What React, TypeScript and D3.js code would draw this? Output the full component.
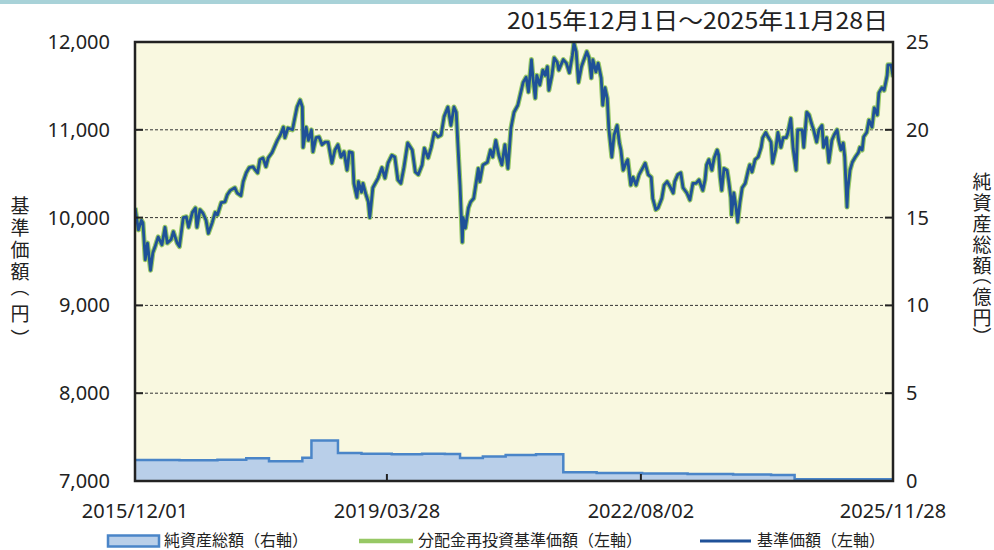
import React from "react";
import * as d3 from "d3";

// ---- Data (dates as fractional years) ----
const navYears = [
  2015.917, 2015.96, 2016.0, 2016.02, 2016.05, 2016.08, 2016.12, 2016.15, 2016.18, 2016.22, 2016.27, 2016.31, 2016.34, 2016.39, 2016.42, 2016.47, 2016.5, 2016.55, 2016.59, 2016.62, 2016.67, 2016.71, 2016.73, 2016.77, 2016.81, 2016.85, 2016.88, 2016.93, 2016.97,
  2017.0, 2017.05, 2017.1, 2017.13, 2017.17, 2017.23, 2017.26, 2017.31, 2017.34, 2017.38, 2017.42, 2017.47, 2017.5, 2017.53, 2017.56, 2017.6, 2017.64, 2017.67, 2017.72, 2017.75, 2017.79, 2017.83, 2017.87, 2017.89, 2017.93, 2017.99,
  2018.01, 2018.05, 2018.09, 2018.12, 2018.13, 2018.17, 2018.2, 2018.24, 2018.26, 2018.3, 2018.34, 2018.38, 2018.42, 2018.46, 2018.51, 2018.55, 2018.59, 2018.63, 2018.67, 2018.71, 2018.74, 2018.78, 2018.8, 2018.84, 2018.86, 2018.9, 2018.92, 2018.96, 2018.99,
  2019.01, 2019.05, 2019.12, 2019.17, 2019.21, 2019.25, 2019.3, 2019.34, 2019.38, 2019.42, 2019.46, 2019.51, 2019.57, 2019.61, 2019.65, 2019.7, 2019.73, 2019.78, 2019.82, 2019.86, 2019.91, 2019.95, 2019.99,
  2020.04, 2020.08, 2020.12, 2020.15, 2020.17, 2020.2, 2020.23, 2020.24, 2020.27, 2020.31, 2020.34, 2020.38, 2020.44, 2020.46, 2020.5, 2020.56, 2020.6, 2020.63, 2020.67, 2020.71, 2020.75, 2020.79, 2020.83, 2020.87, 2020.91, 2020.96,
  2021.03, 2021.07, 2021.1, 2021.14, 2021.16, 2021.19, 2021.21, 2021.25, 2021.29, 2021.32, 2021.35, 2021.37, 2021.41, 2021.44, 2021.48, 2021.5, 2021.56, 2021.6, 2021.64, 2021.68, 2021.7, 2021.73, 2021.76, 2021.8, 2021.82, 2021.87, 2021.9, 2021.93, 2021.95, 2021.99,
  2022.02, 2022.06, 2022.08, 2022.11, 2022.14, 2022.16, 2022.2, 2022.23, 2022.27, 2022.3, 2022.32, 2022.35, 2022.39, 2022.41, 2022.45, 2022.48, 2022.52, 2022.56, 2022.61, 2022.64, 2022.68, 2022.72, 2022.74, 2022.78, 2022.81, 2022.86, 2022.89, 2022.93, 2022.97,
  2023.01, 2023.03, 2023.07, 2023.11, 2023.14, 2023.19, 2023.23, 2023.27, 2023.31, 2023.35, 2023.4, 2023.43, 2023.45, 2023.48, 2023.52, 2023.55, 2023.59, 2023.61, 2023.63, 2023.65, 2023.68, 2023.72, 2023.74, 2023.77, 2023.78, 2023.81, 2023.84, 2023.86, 2023.89, 2023.92, 2023.96,
  2024.0, 2024.02, 2024.05, 2024.09, 2024.13, 2024.17, 2024.19, 2024.23, 2024.26, 2024.3, 2024.32, 2024.36, 2024.39, 2024.43, 2024.46, 2024.5, 2024.52, 2024.56, 2024.59, 2024.63, 2024.65, 2024.71, 2024.73, 2024.77, 2024.8, 2024.84, 2024.86, 2024.9, 2024.93, 2024.97, 2024.99,
  2025.03, 2025.06, 2025.1, 2025.13, 2025.17, 2025.19, 2025.22, 2025.25, 2025.27, 2025.3, 2025.31, 2025.34, 2025.37, 2025.41, 2025.45, 2025.47, 2025.5, 2025.52, 2025.56, 2025.59, 2025.63, 2025.66, 2025.7, 2025.72, 2025.76, 2025.79, 2025.83, 2025.84, 2025.88, 2025.91,
];

const navValues = [
  10110, 9860, 9970, 9940, 9520, 9710, 9400, 9600, 9670, 9780, 9690, 9890, 9710, 9750, 9840, 9710, 9670, 10000, 10010, 9890, 10060, 10110, 9890, 10090, 10050, 9970, 9820, 9940, 10060,
  10030, 10170, 10180, 10260, 10310, 10340, 10280, 10250, 10410, 10510, 10570, 10580, 10540, 10510, 10660, 10680, 10580, 10680, 10740, 10800, 10880, 10940, 11030, 10910, 11020, 11000,
  11090, 11260, 11340, 11260, 10800, 11030, 10880, 11000, 10750, 10910, 10920, 10830, 10860, 10860, 10620, 10770, 10830, 10690, 10750, 10540, 10750, 10740, 10390, 10230, 10410, 10290, 10390, 10260, 10180,
  10000, 10340, 10450, 10570, 10450, 10620, 10710, 10690, 10430, 10390, 10570, 10850, 10770, 10520, 10490, 10600, 10790, 10680, 10800, 10970, 10920, 10940, 11150,
  11260, 11050, 11260, 11200, 10860, 10370, 9720, 10000, 9880, 10110, 10180, 10220, 10560, 10410, 10600, 10630, 10770, 10690, 10880, 10710, 10600, 10830, 10560, 11020, 11200, 11280,
  11540, 11600, 11430, 11800, 11590, 11360, 11620, 11510, 11680, 11620, 11720, 11450, 11620, 11820, 11770, 11680, 11800, 11760, 11650, 11850, 11990, 11890, 11540, 11720, 11770, 11890, 11820, 11590, 11800, 11660,
  11760, 11590, 11280, 11480, 11360, 11020, 10690, 10940, 11050, 10850, 10770, 10540, 10630, 10660, 10370, 10460, 10370, 10490, 10570, 10620, 10490, 10460, 10220, 10090, 10110, 10220, 10370, 10410, 10350,
  10280, 10410, 10490, 10510, 10340, 10280, 10200, 10390, 10390, 10430, 10310, 10430, 10600, 10660, 10540, 10680, 10770, 10710, 10460, 10310, 10560, 10540, 10430, 10230, 10030, 10280, 10110, 9950, 10170, 10340, 10390,
  10540, 10600, 10520, 10660, 10690, 10800, 10910, 10970, 10920, 10860, 10620, 10770, 10970, 10800, 10910, 10910, 10960, 11130, 10790, 10540, 11000, 11000, 10800, 11200, 11170, 11050, 11000, 10860, 11000, 11050, 10800,
  10910, 10630, 10880, 10940, 11000, 10880, 10770, 10850, 10690, 10120, 10310, 10540, 10630, 10690, 10740, 10800, 10770, 10920, 10970, 11110, 11030, 11250, 11170, 11420, 11480, 11450, 11620, 11740, 11740, 11600,
];

// Net assets (億円)
const naYears = [2015.917, 2016.5, 2017.0, 2017.38, 2017.68, 2018.12, 2018.24, 2018.59, 2018.9, 2019.3, 2019.7, 2020.0, 2020.2, 2020.5, 2020.8, 2021.2, 2021.56, 2022.0, 2022.6, 2023.2, 2023.8, 2024.3, 2024.61, 2025.91];
const naValues = [1.2, 1.18, 1.21, 1.29, 1.12, 1.33, 2.3, 1.6, 1.55, 1.52, 1.55, 1.54, 1.31, 1.4, 1.48, 1.53, 0.5, 0.46, 0.43, 0.4, 0.37, 0.34, 0.1, 0.1];

const leftTicks = [7000, 8000, 9000, 10000, 11000, 12000];
const rightTicks = [0, 5, 10, 15, 20, 25];
const xTickLabels = ["2015/12/01", "2019/03/28", "2022/08/02", "2025/11/28"];
const titleText = "2015年12月1日～2025年11月28日";
const leftAxisTitle = "基準価額（円）";
const rightAxisTitle = "純資産総額（億円）";
const legendLabels = ["純資産総額（右軸）", "分配金再投資基準価額（左軸）", "基準価額（左軸）"];

function fromYear(y: number): Date {
  const yr = Math.floor(y);
  const s = Date.UTC(yr, 0, 1);
  const e = Date.UTC(yr + 1, 0, 1);
  return new Date(s + (y - yr) * (e - s));
}
function parseLabel(s: string): Date {
  const [y, m, d] = s.split("/").map(Number);
  return new Date(Date.UTC(y, m - 1, d));
}

const L = 135, R = 893, T = 42, B = 481;
const NUM_FONT = "'Noto Sans', 'Open Sans', sans-serif";
const JP_FONT = "'Noto Sans CJK JP', 'Noto Sans', sans-serif";

// vertical title: one glyph per row, brackets turned 90°
function VerticalTitle({ text, cx, top, step, fontSize, parenAdv }: { text: string; cx: number; top: number; step: number; fontSize: number; parenAdv: number }) {
  const chars = Array.from(text);
  let y = top;
  const out: React.ReactNode[] = [];
  chars.forEach((ch, i) => {
    const isParen = ch === "（" || ch === "）";
    const adv = isParen ? step * parenAdv : step;
    const center = y + adv / 2;
    if (isParen) {
      const off = ch === "（" ? -0.22 * fontSize : 0.22 * fontSize;
      const gc = center + off;
      out.push(
        <text key={i} x={cx} y={gc} textAnchor="middle" dominantBaseline="central" fontFamily={JP_FONT} fontSize={fontSize} fill="#222" transform={`rotate(90 ${cx} ${gc})`}>
          {ch}
        </text>
      );
    } else {
      out.push(
        <text key={i} x={cx} y={center} textAnchor="middle" dominantBaseline="central" fontFamily={JP_FONT} fontSize={fontSize} fill="#222">
          {ch}
        </text>
      );
    }
    y += adv;
  });
  return <g>{out}</g>;
}

export default function App() {
  const x = d3.scaleUtc().domain([parseLabel(xTickLabels[0]), parseLabel(xTickLabels[3])]).range([L, R]);
  const yL = d3.scaleLinear().domain([7000, 12000]).range([B, T]);
  const yR = d3.scaleLinear().domain([0, 25]).range([B, T]);

  const nav = navYears.map((t, i) => ({ d: fromYear(t), v: navValues[i] }));
  const na = naYears.map((t, i) => ({ d: fromYear(t), v: naValues[i] }));

  const line = d3.line<{ d: Date; v: number }>().x((p) => x(p.d)).y((p) => yL(p.v)).curve(d3.curveLinear);
  const naArea = d3.area<{ d: Date; v: number }>().x((p) => x(p.d)).y0(B).y1((p) => yR(p.v)).curve(d3.curveStepAfter);
  const naLine = d3.line<{ d: Date; v: number }>().x((p) => x(p.d)).y((p) => yR(p.v)).curve(d3.curveStepAfter);

  const navPath = line(nav) || "";

  return (
    <svg width={994} height={550} style={{ position: "absolute", left: 0, top: 0, background: "#fff" }}>
      <rect x={0} y={0} width={994} height={4} fill="#a8d2d8" />
      <text x={507} y={29} fontFamily={JP_FONT} fontSize={23} fill="#222" textLength={381} lengthAdjust="spacingAndGlyphs">
        {titleText}
      </text>

      <defs>
        <clipPath id="plotclip">
          <rect x={L} y={T} width={R - L} height={B - T} />
        </clipPath>
      </defs>

      <rect x={L} y={T} width={R - L} height={B - T} fill="#f9f8e0" />

      {leftTicks.slice(1, -1).map((t) => (
        <line key={t} x1={L} x2={R} y1={yL(t)} y2={yL(t)} stroke="#333" strokeWidth={1} strokeDasharray="3,2" />
      ))}

      <g clipPath="url(#plotclip)">
        <path d={naArea(na) || ""} fill="#b9cfe9" />
        <path d={naLine(na) || ""} fill="none" stroke="#4a85c8" strokeWidth={2.5} />
        <path d={navPath} fill="none" stroke="#97c865" strokeWidth={5} strokeLinejoin="round" />
        <path d={navPath} fill="none" stroke="#1f5198" strokeWidth={2.8} strokeLinejoin="round" />
      </g>

      {leftTicks.slice(1, -1).map((t) => (
        <line key={"lt" + t} x1={L} x2={L + 8} y1={yL(t)} y2={yL(t)} stroke="#222" strokeWidth={2} />
      ))}
      {rightTicks.slice(1, -1).map((t) => (
        <line key={"rt" + t} x1={R - 8} x2={R} y1={yR(t)} y2={yR(t)} stroke="#222" strokeWidth={2} />
      ))}
      {xTickLabels.slice(1, -1).map((s) => (
        <line key={"xt" + s} x1={x(parseLabel(s))} x2={x(parseLabel(s))} y1={B} y2={B - 7} stroke="#222" strokeWidth={2} />
      ))}

      <rect x={L} y={T} width={R - L} height={B - T} fill="none" stroke="#222" strokeWidth={2.5} />

      {leftTicks.map((t) => (
        <text key={"ll" + t} x={110} y={yL(t)} dy="0.35em" textAnchor="end" fontFamily={NUM_FONT} fontSize={20} fill="#222">
          {d3.format(",")(t)}
        </text>
      ))}
      {rightTicks.map((t) => (
        <text key={"rl" + t} x={906} y={yR(t)} dy="0.35em" textAnchor="start" fontFamily={NUM_FONT} fontSize={20} fill="#222">
          {t}
        </text>
      ))}
      {xTickLabels.map((s) => (
        <text key={"xl" + s} x={x(parseLabel(s))} y={518} textAnchor="middle" fontFamily={NUM_FONT} fontSize={20} fill="#222">
          {s}
        </text>
      ))}

      <VerticalTitle text={leftAxisTitle} cx={20} top={194} step={21.8} fontSize={19} parenAdv={0.95} />
      <VerticalTitle text={rightAxisTitle} cx={982} top={169.5} step={21} fontSize={19} parenAdv={0.5} />

      <rect x={108} y={535.5} width={51} height={11} fill="#b9cfe9" stroke="#4a85c8" strokeWidth={2.5} />
      <text x={164} y={545.5} fontFamily={JP_FONT} fontSize={16} fill="#222">{legendLabels[0]}</text>
      <line x1={359} x2={413} y1={541} y2={541} stroke="#97c865" strokeWidth={4.5} />
      <text x={418} y={545.5} fontFamily={JP_FONT} fontSize={16} fill="#222">{legendLabels[1]}</text>
      <line x1={700} x2={751} y1={541} y2={541} stroke="#1f5198" strokeWidth={3} />
      <text x={757} y={545.5} fontFamily={JP_FONT} fontSize={16} fill="#222">{legendLabels[2]}</text>
    </svg>
  );
}
